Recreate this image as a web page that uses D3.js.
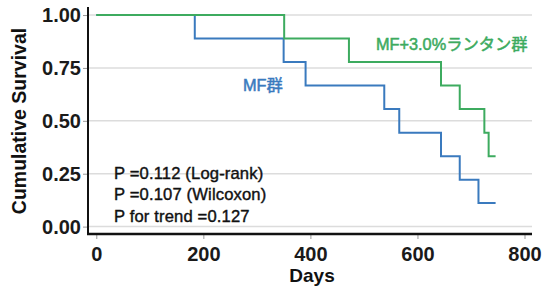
<!DOCTYPE html>
<html>
<head>
<meta charset="utf-8">
<script src="https://cdn.jsdelivr.net/npm/d3@7"></script>
<style>
	body { margin: 0; background: #fff; }
	text { font-family: "Liberation Sans", Arial, "Noto Sans CJK JP", sans-serif; }
</style>
</head>
<body>
<svg id="chart"></svg>
<script>
// survival steps
var mfDays = [0, 184, 350, 391, 538, 566, 644, 679, 714, 746];
var mfSurv = [1, 0.889, 0.778, 0.667, 0.556, 0.444, 0.333, 0.222, 0.111, 0.111];
var laDays = [0, 351, 472, 644, 679, 725, 733, 746];
var laSurv = [1, 0.889, 0.778, 0.667, 0.556, 0.444, 0.333, 0.333];

var xTicks = [0, 200, 400, 600, 800];
var yTicks = [0, 0.25, 0.5, 0.75, 1];
var pLines = ["P =0.112 (Log-rank)", "P =0.107 (Wilcoxon)", "P for trend =0.127"];

var width = 542;
var height = 292;
var blue = "#3a7abe";
var green = "#3dab5f";

var svg = d3.select("#chart").attr("width", width).attr("height", height);

var x = d3.scaleLinear().domain([-15.5, 814]).range([88, 532]);
var y = d3.scaleLinear().domain([-0.035, 1.038]).range([234, 7]);

// grid
svg.append("g").selectAll("line")
	.data(yTicks)
	.enter().append("line")
	.attr("x1", 88).attr("x2", 532)
	.attr("y1", function(d) { return y(d); })
	.attr("y2", function(d) { return y(d); })
	.attr("stroke", "#dcdcdc")
	.attr("stroke-width", 1.5);

// axes
var yAxis = svg.append("g").attr("transform", "translate(88,0)")
	.call(d3.axisLeft(y).tickValues(yTicks).tickFormat(d3.format(".2f")).tickSize(5).tickSizeOuter(0));
var xAxis = svg.append("g").attr("transform", "translate(0,234)")
	.call(d3.axisBottom(x).tickValues(xTicks).tickSize(5).tickSizeOuter(0).tickPadding(8));

[yAxis, xAxis].forEach(function(a) {
	a.select(".domain").remove();
	a.selectAll(".tick line").attr("stroke", "#999").attr("stroke-width", 1);
	a.selectAll(".tick text")
		.attr("fill", "#1a1a1a")
		.style("font-size", "20px")
		.style("font-weight", "bold");
});
yAxis.selectAll(".tick text").attr("x", -7);

// spines
svg.append("line").attr("x1", 88).attr("x2", 88).attr("y1", 7).attr("y2", 235)
	.attr("stroke", "#111").attr("stroke-width", 2);
svg.append("line").attr("x1", 87).attr("x2", 532).attr("y1", 234).attr("y2", 234)
	.attr("stroke", "#111").attr("stroke-width", 2.5);

// curves
var line = d3.line()
	.x(function(d) { return x(d[0]); })
	.y(function(d) { return y(d[1]); })
	.curve(d3.curveStepAfter);

svg.append("path")
	.datum(d3.zip(mfDays, mfSurv))
	.attr("d", line)
	.attr("fill", "none")
	.attr("stroke", blue)
	.attr("stroke-width", 2);

svg.append("path")
	.datum(d3.zip(laDays, laSurv))
	.attr("d", line)
	.attr("fill", "none")
	.attr("stroke", green)
	.attr("stroke-width", 2);

// group labels (medium weight: regular + thin stroke)
svg.append("text").attr("x", 376).attr("y", 50)
	.attr("fill", green).attr("stroke", green).attr("stroke-width", 0.5)
	.style("font-size", "16.3px")
	.text("MF+3.0%ランタン群");
svg.append("text").attr("x", 243).attr("y", 90.5)
	.attr("fill", blue).attr("stroke", blue).attr("stroke-width", 0.5)
	.style("font-size", "16.3px")
	.text("MF群");

// p-values
svg.append("g").selectAll("text")
	.data(pLines)
	.enter().append("text")
	.attr("x", 114)
	.attr("y", function(d, i) { return 178.5 + i * 21.7; })
	.attr("fill", "#111").attr("stroke", "#111").attr("stroke-width", 0.4)
	.style("font-size", "16.6px")
	.style("letter-spacing", "0.15px")
	.text(function(d) { return d; });

// axis titles
svg.append("text")
	.attr("transform", "translate(26,121) rotate(-90)")
	.attr("text-anchor", "middle")
	.attr("fill", "#111")
	.style("font-size", "19.5px").style("font-weight", "bold")
	.text("Cumulative Survival");
svg.append("text")
	.attr("x", 312).attr("y", 282)
	.attr("text-anchor", "middle")
	.attr("fill", "#111")
	.style("font-size", "19px").style("font-weight", "bold")
	.text("Days");
</script>
</body>
</html>
